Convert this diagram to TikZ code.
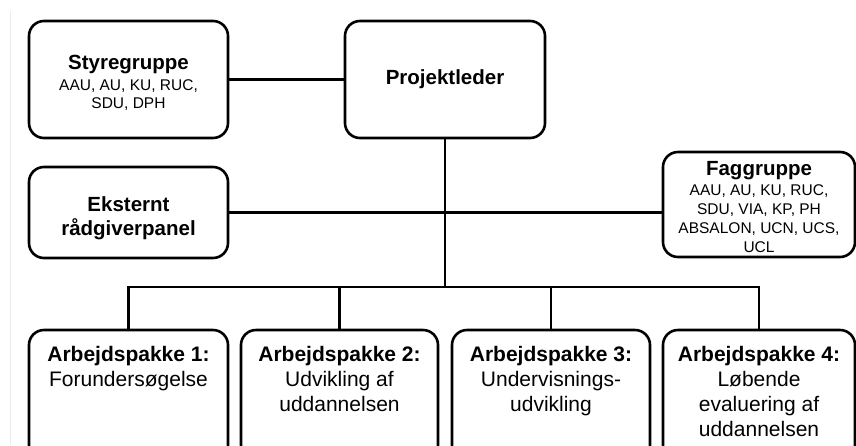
\documentclass[tikz,border=0pt]{standalone}
\usepackage{fontspec}
\setmainfont{Liberation Sans}
\newcommand\subtxt{\fontsize{15.5}{18}\selectfont}

\tikzset{
  box/.style={draw, line width=2.6pt, rounded corners=15pt, inner sep=0pt, align=center,
    font=\fontsize{20.5}{24}\selectfont},
  pkgtext/.style={anchor=north, inner sep=0pt, align=center, font=\fontsize{21}{25}\selectfont},
  link/.style={line width=2.6pt}
}

\begin{document}
\begin{tikzpicture}[x=1pt, y=-1pt]
        \useasboundingbox (0,0) rectangle (856,445);
        \clip (0,0) rectangle (856,445);
        \draw[black!8, line width=1pt] (10,11) -- (10,445);

        \node[box, minimum width=199, minimum height=117] (styre) at (128.5,79.5)
          {\rule{0pt}{21pt}\textbf{Styregruppe}\\[-3pt] \subtxt AAU, AU, KU, RUC,\\[-6pt] \subtxt SDU, DPH};
        \node[box, minimum width=200, minimum height=117] (proj) at (445,79.5) {\textbf{Projektleder}};
        \node[box, minimum width=199, minimum height=91] (ekst) at (128.5,212.5)
          {\rule{0pt}{26.5pt}\textbf{Eksternt}\\ \textbf{rådgiverpanel}};
        \node[box, minimum width=192, minimum height=105] (fag) at (759,204.5)
          {\rule{0pt}{19pt}\textbf{Faggruppe}\\[-4pt] \subtxt AAU, AU, KU, RUC,\\[-5pt] \subtxt SDU, VIA, KP, PH\\[-5pt]
           \subtxt ABSALON, UCN, UCS,\\[-5pt] \subtxt UCL};

        \node[box, minimum width=199, minimum height=130] (ap1) at (128.5,395) {};
        \node[box, minimum width=197, minimum height=130] (ap2) at (339.5,395) {};
        \node[box, minimum width=198, minimum height=130] (ap3) at (551,395) {};
        \node[box, minimum width=192, minimum height=130] (ap4) at (759,395) {};

        \node[pkgtext] (ap1t) at ([yshift=-17]ap1.north) {\textbf{Arbejdspakke 1:}\\ Forundersøgelse};
        \node[pkgtext] (ap2t) at ([yshift=-17]ap2.north) {\textbf{Arbejdspakke 2:}\\ Udvikling af\\ uddannelsen};
        \node[pkgtext] (ap3t) at ([yshift=-17]ap3.north) {\textbf{Arbejdspakke 3:}\\ Undervisnings-\\ udvikling};
        \node[pkgtext] (ap4t) at ([yshift=-17]ap4.north) {\textbf{Arbejdspakke 4:}\\ Løbende\\ evaluering af\\ uddannelsen};

        \coordinate (bus) at (445,287);
        \draw[link] (styre) -- (proj);
        \draw[link] (ekst.east) -- (ekst.east -| fag.west);
        \draw[link] (proj) -- (bus);
        \draw[link] (ap1.north) |- (bus) -| (ap4.north);
        \draw[link] (ap2.north) -- (ap2.north |- bus);
        \draw[link] (ap3.north) -- (ap3.north |- bus);
      \end{tikzpicture}
\end{document}
